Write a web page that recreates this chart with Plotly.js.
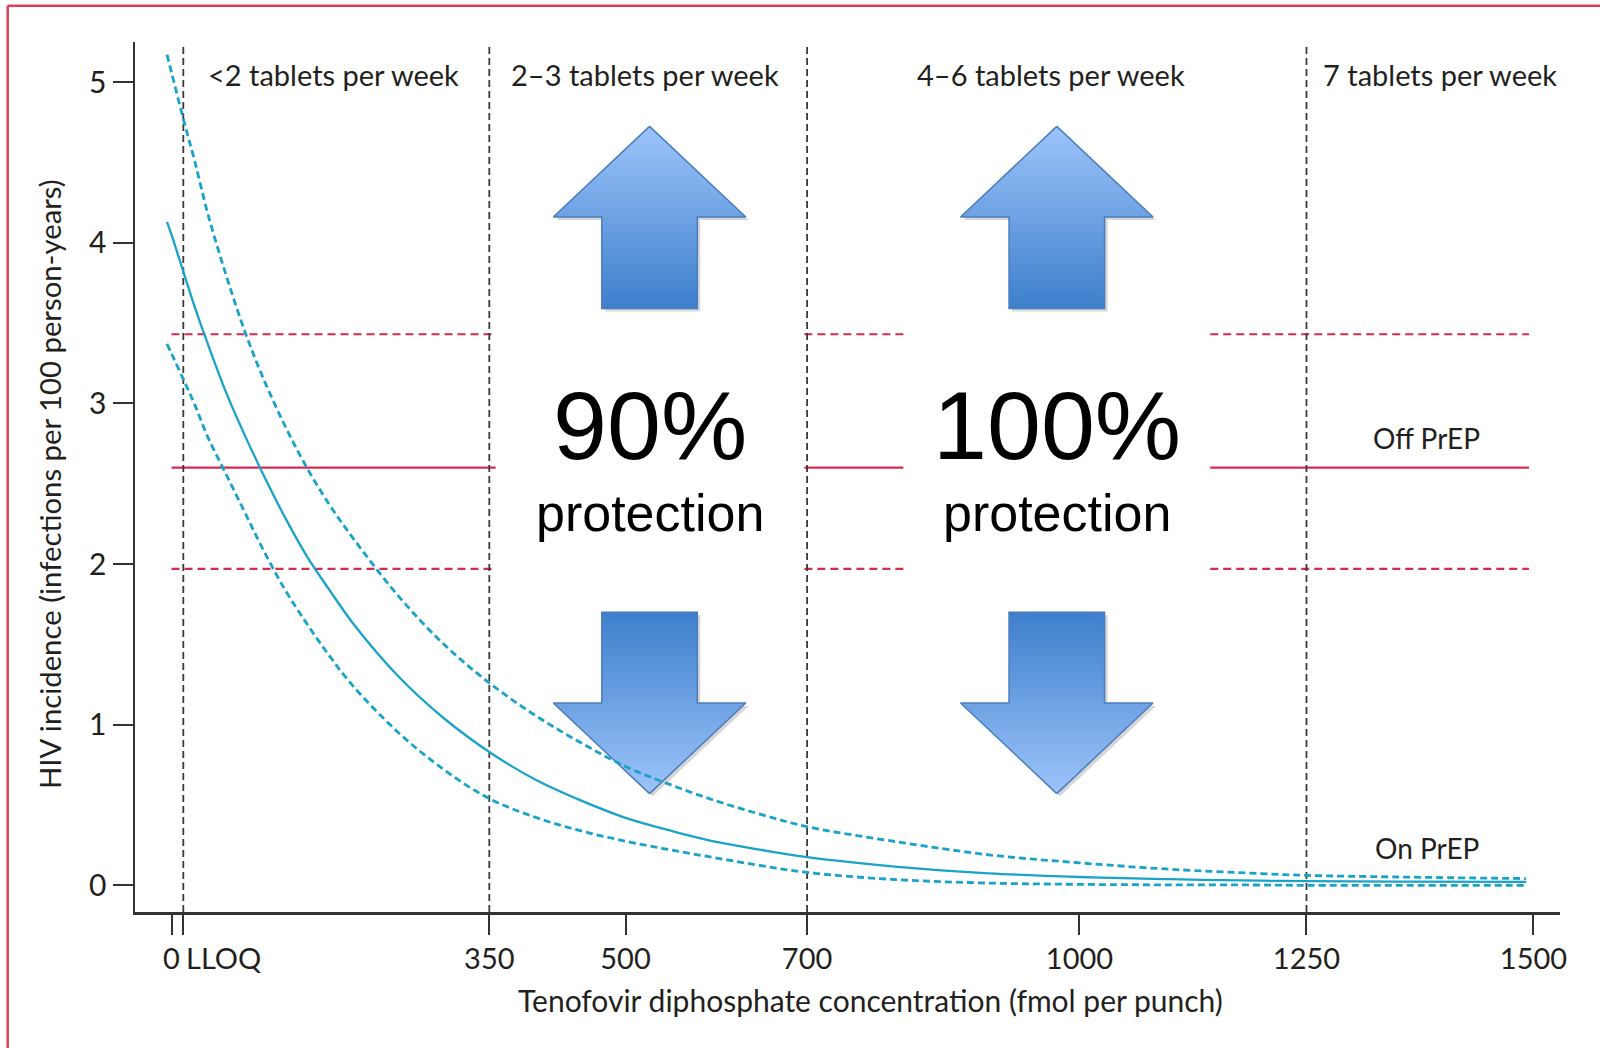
<!DOCTYPE html>
<html>
<head>
<meta charset="utf-8">
<script src="https://cdn.plot.ly/plotly-3.0.1.min.js"></script>
<style>
html,body{margin:0;padding:0;background:#ffffff;}
#chart{width:1600px;height:1048px;}
</style>
</head>
<body>
<div id="chart"></div>
<script>
// ---- data ----
const concentration = [-5, 0, 13, 25, 40, 60, 80, 100, 125, 150, 175, 200, 250, 300, 350, 400, 450, 500, 550, 600, 650, 700, 800, 900, 1000, 1100, 1200, 1250, 1350, 1492];
const incidenceOnPrep = [4.13, 4.05, 3.82, 3.61, 3.37, 3.07, 2.81, 2.57, 2.29, 2.04, 1.83, 1.63, 1.30, 1.04, 0.83, 0.66, 0.53, 0.42, 0.34, 0.27, 0.22, 0.175, 0.115, 0.075, 0.052, 0.038, 0.029, 0.026, 0.023, 0.021];
const incidenceUpper = [5.17, 5.06, 4.77, 4.52, 4.18, 3.80, 3.46, 3.17, 2.86, 2.59, 2.36, 2.16, 1.80, 1.50, 1.26, 1.06, 0.89, 0.74, 0.625, 0.525, 0.44, 0.365, 0.27, 0.19, 0.14, 0.10, 0.073, 0.062, 0.052, 0.042];
const incidenceLower = [3.37, 3.31, 3.15, 3.00, 2.79, 2.56, 2.33, 2.10, 1.84, 1.62, 1.42, 1.24, 0.95, 0.72, 0.54, 0.425, 0.34, 0.275, 0.22, 0.17, 0.122, 0.08, 0.035, 0.014, 0.006, 0.003, 0.002, 0.0, 0.0, 0.0];

const offPrepIncidence = 2.6;
const offPrepLower = 1.97;
const offPrepUpper = 3.43;
const offPrepSegments = [[0, 357], [697, 806], [1144, 1495]];

const adherenceCutoffs = [13, 350, 700, 1250];
const adherenceLabels = ['<2 tablets per week', '2\u20133 tablets per week', '4\u20136 tablets per week', '7 tablets per week'];
const protectionLabels = ['90%', '100%'];
const protectionWord = 'protection';

const xTickVals = [0, 13, 350, 500, 700, 1000, 1250, 1500];
const xTickText = ['0', '', '350', '500', '700', '1000', '1250', '1500'];
const lloqLabel = 'LLOQ';
const yTickVals = [0, 1, 2, 3, 4, 5];
const yTickText = ['0', '1', '2', '3', '4', '5'];
const xTitle = 'Tenofovir diphosphate concentration (fmol per punch)';
const yTitle = 'HIV incidence (infections per 100 person-years)';

// ---- styling / layout constants ----
const FONT = 'Lato, "Open Sans", sans-serif';
const BIGFONT = '"Liberation Sans", Arial, sans-serif';
const TEXT = '#231f20';
const AXIS = '#333333';
const BLUE = '#1aa3c9';
const RED = '#d42b50';
const BORDER = '#d9405f';
const X_RANGE = [-40.2, 1529.2];
const Y_RANGE = [-0.166, 5.249];
const PX_PER_X = 1425 / (X_RANGE[1] - X_RANGE[0]);
const PX_PER_Y = 870 / (Y_RANGE[1] - Y_RANGE[0]);

const labelX = [178, 521, 969, 1397];
const labelY = 5.045;
const protectionX = [526.5, 975];

const traces = [];

// arrows (decoration)
const arrowGeom = {headHalf: 106, shaftHalf: 52.6,
  up: {tip: 4.724, base: 4.16, end: 3.59},
  down: {tip: 0.571, base: 1.135, end: 1.70}};
const ARROW_DARK = '#3d7fcc', ARROW_LIGHT = '#9dc4fa';
function arrowXY(cx, g, dx, dy) {
  const hh = arrowGeom.headHalf, sh = arrowGeom.shaftHalf;
  const x = [cx, cx + hh, cx + sh, cx + sh, cx - sh, cx - sh, cx - hh, cx].map(v => v + dx);
  const y = [g.tip, g.base, g.base, g.end, g.end, g.base, g.base, g.tip].map(v => v + dy);
  return {x, y};
}
const sdx = 3 / PX_PER_X, sdy = -3 / PX_PER_Y;
protectionX.forEach(cx => {
  ['up', 'down'].forEach(dir => {
    const g = arrowGeom[dir];
    const s = arrowXY(cx, g, sdx, sdy);
    traces.push({x: s.x, y: s.y, type: 'scatter', mode: 'lines', fill: 'toself',
      fillcolor: 'rgba(0,0,0,0.16)', line: {width: 0, color: 'rgba(0,0,0,0)'}, hoverinfo: 'skip'});
    const a = arrowXY(cx, g, 0, 0);
    traces.push({x: a.x, y: a.y, type: 'scatter', mode: 'lines', fill: 'toself',
      fillgradient: {type: 'vertical', colorscale: dir === 'up' ? [[0, ARROW_DARK], [1, ARROW_LIGHT]] : [[0, ARROW_LIGHT], [1, ARROW_DARK]]},
      line: {width: 1.5, color: '#4b7dbd'}, hoverinfo: 'skip'});
  });
});

// off-PrEP reference lines (with gaps behind the overlays)
function segTrace(yv, dash) {
  const xs = [], ys = [];
  offPrepSegments.forEach(s => { xs.push(s[0], s[1], null); ys.push(yv, yv, null); });
  return {x: xs, y: ys, type: 'scatter', mode: 'lines', line: {color: RED, width: 2.2, dash: dash}, hoverinfo: 'skip'};
}
traces.push(segTrace(offPrepUpper, '8px,5px'));
traces.push(segTrace(offPrepIncidence, 'solid'));
traces.push(segTrace(offPrepLower, '8px,5px'));

// adherence cut-off lines
(function () {
  const xs = [], ys = [];
  adherenceCutoffs.forEach(c => { xs.push(c, c, null); ys.push(Y_RANGE[0], 5.22, null); });
  traces.push({x: xs, y: ys, type: 'scatter', mode: 'lines', line: {color: '#3a3a3a', width: 1.8, dash: '7px,4px'}, hoverinfo: 'skip'});
})();

// on-PrEP incidence curve with 95% CI
traces.push({x: concentration, y: incidenceUpper, type: 'scatter', mode: 'lines', line: {color: BLUE, width: 2.8, dash: '7px,4px', shape: 'spline'}, name: 'Upper 95% CI'});
traces.push({x: concentration, y: incidenceLower, type: 'scatter', mode: 'lines', line: {color: BLUE, width: 2.8, dash: '7px,4px', shape: 'spline'}, name: 'Lower 95% CI'});
traces.push({x: concentration, y: incidenceOnPrep, type: 'scatter', mode: 'lines', line: {color: BLUE, width: 2.3, shape: 'spline'}, name: 'On PrEP'});

const annotations = [];
adherenceLabels.forEach((t, i) => annotations.push({x: labelX[i], y: labelY, xref: 'x', yref: 'y', text: t, showarrow: false,
  xanchor: 'center', yanchor: 'middle', font: {family: FONT, size: 29, color: TEXT}}));
protectionLabels.forEach((t, i) => {
  annotations.push({x: protectionX[i], y: 2.86, xref: 'x', yref: 'y', text: t, showarrow: false,
    xanchor: 'center', yanchor: 'middle', font: {family: BIGFONT, size: 97, color: '#000000'}});
  annotations.push({x: protectionX[i], y: 2.32, xref: 'x', yref: 'y', text: protectionWord, showarrow: false,
    xanchor: 'center', yanchor: 'middle', font: {family: BIGFONT, size: 52, color: '#000000'}});
});
annotations.push({x: 1382, y: 2.785, xref: 'x', yref: 'y', text: 'Off PrEP', showarrow: false, xanchor: 'center', yanchor: 'middle', font: {family: FONT, size: 28, color: TEXT}});
annotations.push({x: 1383, y: 0.235, xref: 'x', yref: 'y', text: 'On PrEP', showarrow: false, xanchor: 'center', yanchor: 'middle', font: {family: FONT, size: 28, color: TEXT}});
annotations.push({x: adherenceCutoffs[0], y: -0.052, xref: 'x', yref: 'paper', text: lloqLabel, showarrow: false, xanchor: 'left', yanchor: 'middle', xshift: 1, font: {family: FONT, size: 29, color: TEXT}});
// axis titles
annotations.push({x: (870 - 135) / 1425, y: (912 - 1000) / 870, xref: 'paper', yref: 'paper', text: xTitle, showarrow: false,
  xanchor: 'center', yanchor: 'middle', font: {family: FONT, size: 30, color: TEXT}});
annotations.push({x: (49 - 135) / 1425, y: (912 - 484) / 870, xref: 'paper', yref: 'paper', text: yTitle, showarrow: false, textangle: -90,
  xanchor: 'center', yanchor: 'middle', font: {family: FONT, size: 29.3, color: TEXT}});

// figure frame
const bx = (7.7 - 135) / 1425, by = (912 - 5.7) / 870;
const shapes = [
  {type: 'line', xref: 'paper', yref: 'paper', x0: bx, x1: bx, y0: by, y1: -0.3, line: {color: BORDER, width: 2.5}},
  {type: 'line', xref: 'paper', yref: 'paper', x0: bx, x1: 1.2, y0: by, y1: by, line: {color: BORDER, width: 2.5}}
];

const layout = {
  width: 1600, height: 1048,
  margin: {l: 135, r: 40, t: 42, b: 136},
  paper_bgcolor: '#ffffff', plot_bgcolor: '#ffffff',
  showlegend: false,
  font: {family: FONT, color: TEXT, size: 29},
  xaxis: {range: X_RANGE, showgrid: false, zeroline: false, showline: true, linecolor: AXIS, linewidth: 2.5,
    ticks: 'outside', ticklen: 20, tickwidth: 2, tickcolor: AXIS, tickmode: 'array', tickvals: xTickVals, ticktext: xTickText,
    tickfont: {family: FONT, size: 29, color: TEXT}},
  yaxis: {range: Y_RANGE, showgrid: false, zeroline: false, showline: true, linecolor: AXIS, linewidth: 2.5,
    ticks: 'outside', ticklen: 20, tickwidth: 2, tickcolor: AXIS, tickmode: 'array', tickvals: yTickVals, ticktext: yTickText,
    tickfont: {family: FONT, size: 30, color: TEXT}},
  annotations: annotations,
  shapes: shapes
};

Plotly.newPlot('chart', traces, layout, {staticPlot: true, displayModeBar: false});
</script>
</body>
</html>
